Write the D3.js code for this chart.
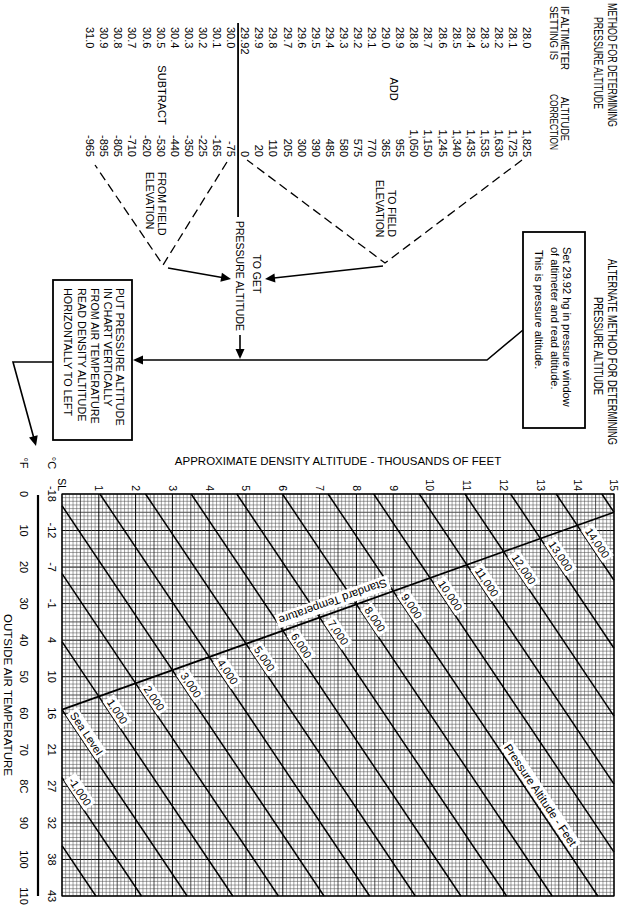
<!DOCTYPE html>
<html>
<head>
<meta charset="utf-8">
<script src="https://cdn.jsdelivr.net/npm/d3@7/dist/d3.min.js"></script>
<style>
html,body{margin:0;padding:0;background:#fff;}
svg{display:block;}
text{font-family:"Liberation Sans",Arial,sans-serif;fill:#000;}
</style>
</head>
<body>
<svg id="chart" width="623" height="911"></svg>
<script>
// ---------------- data ----------------
const tempTicksF = [0,10,20,30,40,50,60,70,80,90,100,110];
const tempLabelsF = ["0","10","20","30","40","50","60","70","8C","90","100","110"];
const tempLabelsC = ["-18","-12","-7","-1","4","10","16","21","27","32","38","43"];
const densityTicks = [0,1,2,3,4,5,6,7,8,9,10,11,12,13,14,15];
const densityLabels = ["SL","1","2","3","4","5","6","7","8","9","10","11","12","13","14","15"];

// pressure-altitude lines (thousands of ft) with their ends: [°F, density alt (k ft)]
const pressureAlts = [-2,-1,0,1,2,3,4,5,6,7,8,9,10,11,12,13,14,15];
const paStartF  = [96.2,77.6,59,40.4,21.8,3.2,0,0,0,0,0,0,0,0,0,0,0,0];
const paStartDA = [0,0,0,0,0,0,1.03,2.27,3.51,4.75,5.99,7.23,8.47,9.71,10.95,12.19,13.43,14.67];
const paEndF    = [110,110,110,110,110,110,110,110,110,110,110,110,98,79.4,60.8,42.2,23.6,5];
const paEndDA   = [0.92,2.16,3.4,4.64,5.88,7.12,8.36,9.6,10.84,12.08,13.32,14.56,15,15,15,15,15,15];

// standard temperature line
const stdTempF  = [5,59];
const stdTempDA = [15,0];

// labels on pressure lines
const paLabelText = ["-1,000","Sea Level","1,000","2,000","3,000","4,000","5,000","6,000","7,000","8,000","9,000","10,000","11,000","12,000","13,000","14,000"];
const paLabelAlt  = [-1,0,1,2,3,4,5,6,7,8,9,10,11,12,13,14];
const paLabelF    = [77.6,59,55.4,51.8,48.2,44.6,41,37.4,33.8,30.2,26.6,23,19.4,15.8,12.2,8.6];
const paLabelDA   = [0,0,1,2,3,4,5,6,7,8,9,10,11,12,13,14];

// altimeter table
const altimeterSettings = ["28.0","28.1","28.2","28.3","28.4","28.5","28.6","28.7","28.8","28.9","29.0","29.1","29.2","29.3","29.4","29.5","29.6","29.7","29.8","29.9","29.92","30.0","30.1","30.2","30.3","30.4","30.5","30.6","30.7","30.8","30.9","31.0"];
const altitudeCorrections = ["1,825","1,725","1,630","1,535","1,435","1,340","1,245","1,150","1,050","955","365","770","575","580","485","390","300","205","110","20","0","-75","-165","-225","-350","-440","-530","-620","-710","-805","-895","-965"];

const altBoxLines = ["Set 29.92 hg in pressure window","of altimeter and read altitude.","This is pressure altitude."];
const putBoxLines = ["PUT PRESSURE ALTITUDE","IN CHART VERTICALLY","FROM AIR TEMPERATURE","READ DENSITY ALTITUDE","HORIZONTALLY TO LEFT"];

// ---------------- drawing ----------------
const svg = d3.select('#chart');
svg.append('rect').attr('width',623).attr('height',911).attr('fill','#fff');
// whole sheet is printed rotated a quarter turn clockwise
const g = svg.append('g').attr('transform','translate(623,0) rotate(90)');

const x = d3.scaleLinear().domain([0,110]).range([494,896]);
const y = d3.scaleLinear().domain([0,15]).range([561,9]);

// grid
const grid = g.append('g');
const gF = d3.range(0,111);
const gD = d3.range(0,151);
function gs(i){ return i%10===0 ? [1.0,'#000'] : (i%5===0 ? [0.8,'#222'] : [0.55,'#555']); }
grid.selectAll('line.v').data(gF).join('line')
  .attr('x1',d=>x(d)).attr('x2',d=>x(d)).attr('y1',y(0)).attr('y2',y(15))
  .attr('stroke',d=>gs(d)[1]).attr('stroke-width',d=>gs(d)[0]);
grid.selectAll('line.h').data(gD).join('line')
  .attr('y1',d=>y(d/10)).attr('y2',d=>y(d/10)).attr('x1',x(0)).attr('x2',x(110))
  .attr('stroke',d=>gs(d)[1]).attr('stroke-width',d=>gs(d)[0]);
grid.append('rect').attr('x',x(0)).attr('y',y(15)).attr('width',x(110)-x(0)).attr('height',y(0)-y(15))
  .attr('fill','none').attr('stroke','#000').attr('stroke-width',1.2);

// pressure altitude lines
const lines = g.append('g');
pressureAlts.forEach((p,i)=>{
  lines.append('line')
    .attr('x1',x(paStartF[i])).attr('y1',y(paStartDA[i]))
    .attr('x2',x(paEndF[i])).attr('y2',y(paEndDA[i]))
    .attr('stroke','#000').attr('stroke-width',1.5);
});
lines.append('line')
  .attr('x1',x(stdTempF[0])).attr('y1',y(stdTempDA[0]))
  .attr('x2',x(stdTempF[1])).attr('y2',y(stdTempDA[1]))
  .attr('stroke','#000').attr('stroke-width',1.7);

function boxedLabel(txt, cx, cy, ang, size){
  const lg = g.append('g').attr('transform',`translate(${cx},${cy}) rotate(${ang})`);
  const t = lg.append('text').text(txt).attr('font-size',size).attr('text-anchor','middle').attr('dy','0.35em');
  const w = t.node().getComputedTextLength();
  lg.insert('rect','text').attr('x',-w/2-2.5).attr('y',-size*0.62).attr('width',w+5).attr('height',size*1.24).attr('fill','#fff');
  return w;
}
function dirOf(i){
  const dx = x(paEndF[i])-x(paStartF[i]), dy = y(paEndDA[i])-y(paStartDA[i]);
  const L = Math.hypot(dx,dy); return [dx/L, dy/L];
}
const labFont = 11;
paLabelText.forEach((txt,k)=>{
  const i = pressureAlts.indexOf(paLabelAlt[k]);
  const [ux,uy] = dirOf(i);
  const ang = Math.atan2(uy,ux)*180/Math.PI;
  const px = x(paLabelF[k]), py = y(paLabelDA[k]);
  const tmp = g.append('text').text(txt).attr('font-size',labFont);
  const w = tmp.node().getComputedTextLength(); tmp.remove();
  const along = w/2 + (k===0 ? 6 : 9);
  const perp = 7; // label sits on the upper side of its line
  const nx = uy, ny = -ux;
  boxedLabel(txt, px+ux*along+nx*perp, py+uy*along+ny*perp, ang, labFont);
});
{
  const dx = x(stdTempF[1])-x(stdTempF[0]), dy = y(stdTempDA[1])-y(stdTempDA[0]);
  const ang = Math.atan2(dy,dx)*180/Math.PI;
  boxedLabel('Standard Temperature', x(29.5), y(7.36), ang, 11.5);
}
{
  const i = pressureAlts.indexOf(9);
  const [ux,uy] = dirOf(i);
  boxedLabel('Pressure Altitude - Feet', x(82.4), y(13.0), Math.atan2(uy,ux)*180/Math.PI, 11.5);
}

// axis labels
const ax = g.append('g');
ax.selectAll('text.da').data(densityTicks).join('text')
  .attr('x',491).attr('y',d=>y(d)).attr('dy','0.35em').attr('text-anchor','end')
  .attr('font-size',10.5).text((d,i)=>densityLabels[i]);
ax.selectAll('text.tc').data(tempTicksF).join('text')
  .attr('x',d=>x(d)).attr('y',571).attr('dy','0.35em').attr('text-anchor','middle')
  .attr('font-size',11).text((d,i)=>tempLabelsC[i]);
ax.selectAll('text.tf').data(tempTicksF).join('text')
  .attr('x',d=>x(d)).attr('y',599).attr('dy','0.35em').attr('text-anchor','middle')
  .attr('font-size',11).text((d,i)=>tempLabelsF[i]);
ax.append('text').attr('x',463).attr('y',571).attr('dy','0.35em').attr('text-anchor','middle').attr('font-size',11).text('°C');
ax.append('text').attr('x',463).attr('y',599).attr('dy','0.35em').attr('text-anchor','middle').attr('font-size',11).text('°F');
ax.append('line').attr('x1',x(0)+1).attr('x2',x(110)).attr('y1',585).attr('y2',585).attr('stroke','#000').attr('stroke-width',2.2);
ax.append('text').attr('x',x(55)).attr('y',615).attr('dy','0.35em').attr('text-anchor','middle').attr('font-size',11.5).text('OUTSIDE AIR TEMPERATURE');
svg.append('text').attr('x',623-y(7.5)).attr('y',465).attr('text-anchor','middle').attr('font-size',11.5)
  .text('APPROXIMATE DENSITY ALTITUDE - THOUSANDS OF FEET');

// ---------- pressure altitude method diagram ----------
const dg = g.append('g');
const row = d3.scalePoint().domain(altimeterSettings).range([96,533]);
function T(txt,u,v,size,anchor,len){
  const t = dg.append('text').attr('x',u).attr('y',v).attr('dy','0.35em').attr('font-size',size)
    .attr('text-anchor',anchor||'start').text(txt);
  if(len){ t.attr('textLength',len).attr('lengthAdjust','spacingAndGlyphs'); }
  return t;
}
T('METHOD FOR DETERMINING',65,11,12.5,'middle',124);
T('PRESSURE ALTITUDE',63,25,12.5,'middle',92);
T('ALTERNATE METHOD FOR DETERMINING',352,11,12.5,'middle',186);
T('PRESSURE ALTITUDE',346,25,12.5,'middle',98);
T('IF  ALTIMETER',6,58,11,null,64); T('SETTING  IS',6,69,11,null,54);
T('ALTITUDE',97,58,11,null,44); T('CORRECTION',94,69,11,null,56);
dg.selectAll('text.set').data(altimeterSettings).join('text')
  .attr('x',27).attr('y',d=>row(d)).attr('dy','0.35em').attr('font-size',11).text(d=>d);
dg.selectAll('text.cor').data(altitudeCorrections).join('text')
  .attr('x',157).attr('y',(d,i)=>row(altimeterSettings[i])).attr('dy','0.35em').attr('text-anchor','end').attr('font-size',11).text(d=>d);
T('ADD',89,229,11,'middle');
T('SUBTRACT',95,461,11,'middle');
T('TO FIELD',190,231,10.5); T('ELEVATION',180,243,10.5);
T('FROM FIELD',172,461,10.5); T('ELEVATION',172,473,10.5);
T('TO GET',274,366,10.5,'middle');
T('PRESSURE ALTITUDE',276,383,10.5,'middle');

const r2992 = row('29.92');
dg.append('line').attr('x1',23).attr('x2',217).attr('y1',r2992+7).attr('y2',r2992+7).attr('stroke','#000').attr('stroke-width',1.8);

const vAdd = [[160,row('28.0')+5],[263,238],[160,row('29.92')-2]];
const vSub = [[162,row('30.0')+4],[265,460],[165,row('31.0')-5]];
[vAdd,vSub].forEach(pts=>{
  dg.append('path').attr('d',d3.line()(pts)).attr('fill','none').attr('stroke','#000')
    .attr('stroke-width',1.3).attr('stroke-dasharray','9,5');
});

function arrow(pts, hl, hw, sw){
  hl = hl||10; hw = hw||4.5;
  const a = pts[pts.length-2], b = pts[pts.length-1];
  const dx=b[0]-a[0], dy=b[1]-a[1], L=Math.hypot(dx,dy), ux=dx/L, uy=dy/L;
  const bx=b[0]-ux*hl, by=b[1]-uy*hl;
  const p2 = pts.slice(0,-1).concat([[bx+ux*1,by+uy*1]]);
  dg.append('path').attr('d',d3.line()(p2)).attr('fill','none').attr('stroke','#000').attr('stroke-width',sw||1.6);
  dg.append('path').attr('d',`M${b[0]},${b[1]}L${bx-uy*hw},${by+ux*hw}L${bx+uy*hw},${by-ux*hw}Z`).attr('fill','#000');
}
arrow([[266,240],[279,358]]);
arrow([[268,455],[279,392]]);
arrow([[335,383],[359,383]]);
arrow([[330,100],[360,136],[360,490]]);
arrow([[362,570],[362,610],[446,587]]);

dg.append('rect').attr('x',232).attr('y',38).attr('width',196).attr('height',62).attr('fill','#fff').attr('stroke','#000').attr('stroke-width',1.8);
[56,68,84].forEach((v,i)=>T(altBoxLines[i], i===2?250:247, v, 11));
dg.append('rect').attr('x',280).attr('y',491).attr('width',160).attr('height',79).attr('fill','#fff').attr('stroke','#000').attr('stroke-width',1.8);
[503,515,528,541,555].forEach((v,i)=>T(putBoxLines[i],288,v,10.8));
</script>
</body>
</html>
